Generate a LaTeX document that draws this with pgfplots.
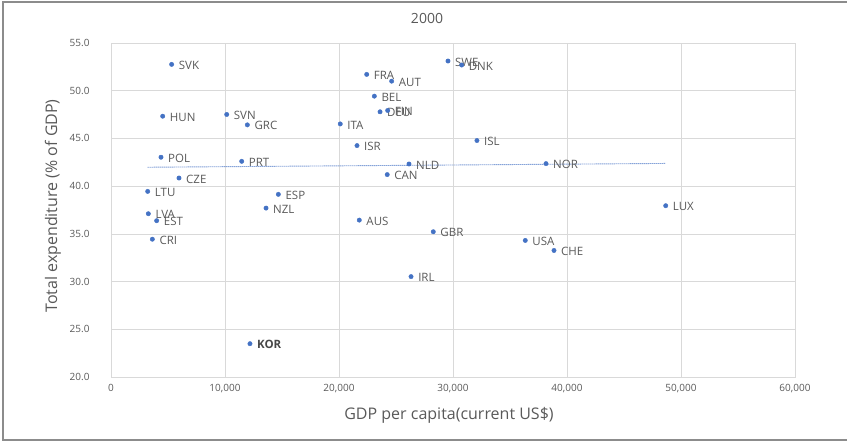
\documentclass[border=0pt]{standalone}
\usepackage{fontspec}
\setmainfont{Open Sans}
\usepackage{pgfplots}
\usepackage{pgfplotstable}
\pgfplotsset{compat=1.18}
\definecolor{dot}{HTML}{4472C4}
\definecolor{txt}{HTML}{595959}
\definecolor{grd}{HTML}{D9D9D9}
\definecolor{frm}{HTML}{8C8C8C}

\pgfplotstableread{
x y label
5320 52.76 SVK
4535 47.33 HUN
10150 47.51 SVN
11960 46.42 GRC
4386 43.03 POL
11465 42.60 PRT
5965 40.85 CZE
3219 39.45 LTU
3275 37.11 LVA
4006 36.38 EST
3626 34.44 CRI
14680 39.14 ESP
13600 37.70 NZL
29560 53.11 SWE
30760 52.69 DNK
22430 51.71 FRA
24620 51.00 AUT
23100 49.43 BEL
23600 47.79 DEU
24270 47.93 FIN
20110 46.52 ITA
21580 44.25 ISR
32100 44.78 ISL
26140 42.32 NLD
24230 41.21 CAN
38160 42.36 NOR
48660 37.95 LUX
36340 34.31 USA
38860 33.26 CHE
21780 36.44 AUS
28270 35.22 GBR
26320 30.52 IRL
}\countries

\pgfplotstableread{
x y label
12190 23.49 KOR
}\kor

\begin{document}
\begin{tikzpicture}[x=1pt,y=1pt]
\useasboundingbox (0,0) rectangle (847,442);
\draw[frm, line width=1.2pt] (847,2) -- (3,2) -- (3,440) -- (847,440);
\begin{axis}[
  at={(111pt,65pt)}, anchor=south west,
  width=684pt, height=334pt, scale only axis,
  xmin=0, xmax=60000, ymin=20, ymax=55,
  xtick={0,10000,...,60000}, ytick={20,25,...,55},
  grid=major, grid style={grd, line width=0.7pt},
  axis line style={grd, line width=0.7pt},
  tick style={draw=none},
  scaled x ticks=false,
  /pgf/number format/assume math mode=true,
  xticklabel style={font=\fontsize{10}{11}\selectfont, text=txt, /pgf/number format/1000 sep={,}, yshift=-4pt},
  yticklabel style={font=\fontsize{10}{11}\selectfont, text=txt, /pgf/number format/.cd, fixed, fixed zerofill, precision=1, /tikz/.cd, xshift=-18pt},
  clip=false,
]
\addplot[only marks, mark=*, mark size=2.2pt, mark options={fill=dot, draw=dot},
  nodes near coords, point meta=explicit symbolic,
  every node near coord/.style={anchor=west, xshift=6pt, yshift=-1pt, inner sep=1pt, font=\fontsize{11.5}{12}\selectfont, text=txt}]
  table[x=x, y=y, meta=label]{\countries};
\addplot[only marks, mark=*, mark size=2.2pt, mark options={fill=dot, draw=dot},
  nodes near coords, point meta=explicit symbolic,
  every node near coord/.style={anchor=west, xshift=6pt, yshift=-1pt, inner sep=1pt, font=\bfseries\fontsize{11.5}{12}\selectfont, text=txt!80!black}]
  table[x=x, y=y, meta=label]{\kor};
\addplot[dot, line width=0.9pt, dash pattern=on 1pt off 1pt] coordinates {(3219,41.98) (48660,42.38)};
\end{axis}
\node[text=txt, font=\fontsize{14}{16}\selectfont] at (427,424) {2000};
\node[text=txt, font=\fontsize{16}{18}\selectfont] at (449,27) {GDP per capita(current US\$)};
\node[text=txt, font=\fontsize{16}{18}\selectfont, rotate=90] at (53,236) {Total expenditure (\% of GDP)};
\end{tikzpicture}
\end{document}
